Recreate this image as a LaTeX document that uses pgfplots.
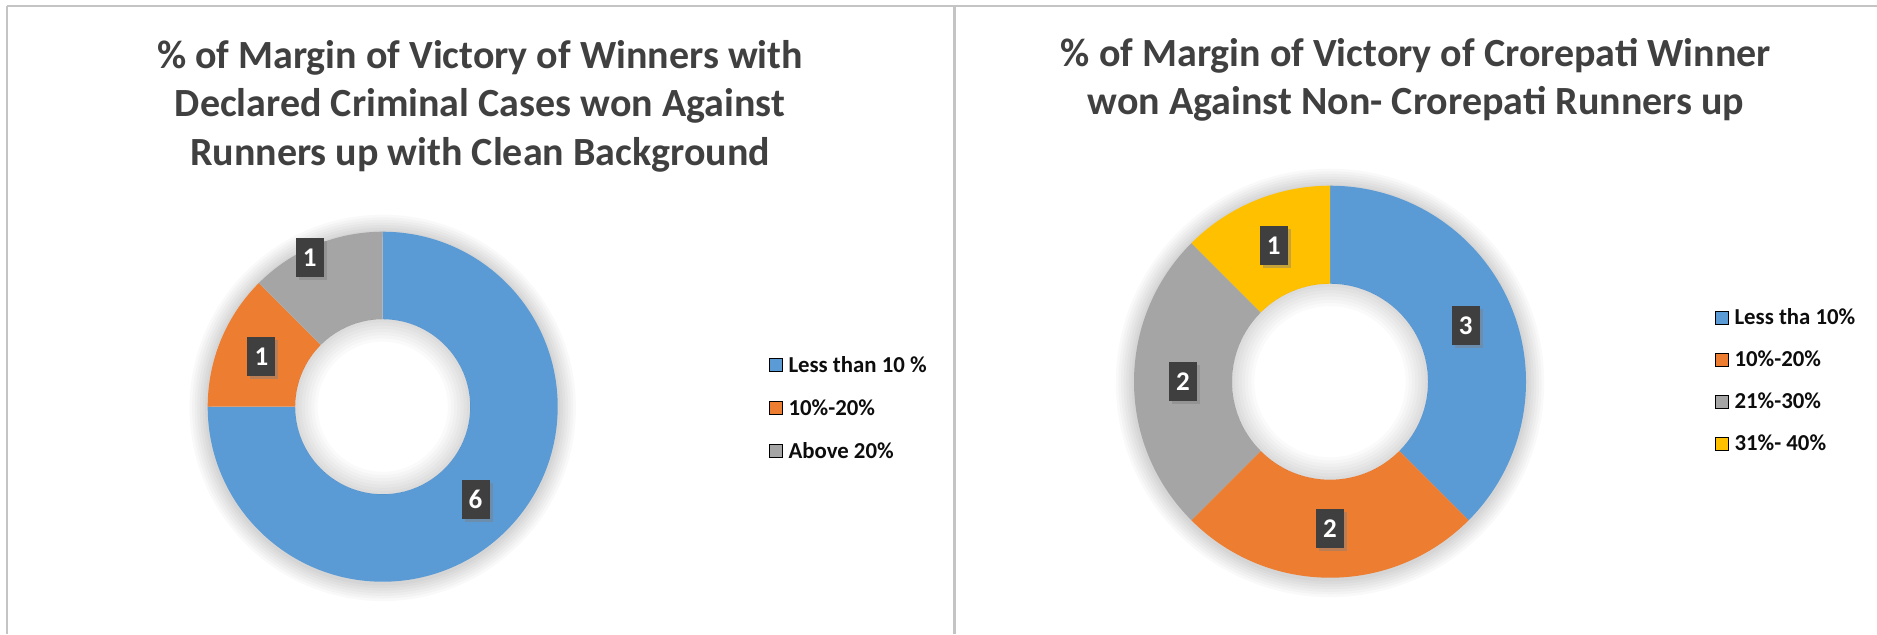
\documentclass[border=0pt]{standalone}
\usepackage{fontspec}
\setmainfont{Carlito}
\usepackage{pgfplots}
\usepackage{pgfplotstable}
\pgfplotsset{compat=1.18}
\usetikzlibrary{shadows}

\definecolor{cBlue}{HTML}{5B9BD5}
\definecolor{cOrange}{HTML}{ED7D31}
\definecolor{cGray}{HTML}{A5A5A5}
\definecolor{cYellow}{HTML}{FFC000}
\definecolor{titlec}{HTML}{404040}
\definecolor{boxc}{HTML}{3F3F3F}
\definecolor{framec}{HTML}{C4C4C4}
\definecolor{legc}{HTML}{0D0D0D}

% value, colour, label radius (fraction of outer radius), label angle shift
\pgfplotstableread{
v c lr da
6 cBlue 0.75 0
1 cOrange 0.75 0
1 cGray 0.95 3.5
}\tabA
\pgfplotstableread{
v c lr da
3 cBlue 0.75 0
2 cOrange 0.75 0
2 cGray 0.75 0
1 cYellow 0.75 0
}\tabB

\tikzset{lbl/.style={fill=boxc, text=white, font=\bfseries\fontsize{13.5}{14}\selectfont,
  minimum width=14pt, minimum height=19.5pt, inner sep=0pt,
  drop shadow={shadow xshift=1.5pt,shadow yshift=-1.5pt,opacity=0.45}}}

\newcommand\donut[3]{% #1 table, #2 outer radius, #3 inner radius
  \pgfplotstablegetrowsof{#1}%
  \pgfmathtruncatemacro\nLast{\pgfplotsretval-1}%
  \gdef\dTot{0}%
  \foreach \i in {0,...,\nLast}{%
    \pgfplotstablegetelem{\i}{v}\of{#1}%
    \pgfmathsetmacro\dT{\dTot+\pgfplotsretval}\xdef\dTot{\dT}}%
  \foreach \k in {1,...,7}{\fill[black,opacity=0.022,even odd rule] ([yshift=-0.6pt]axis cs:0,0) circle[radius=#2+\k*1.3pt] circle[radius=#2-2pt];}%
  \gdef\dCum{0}%
  \foreach \i in {0,...,\nLast}{%
    \pgfplotstablegetelem{\i}{v}\of{#1}\let\sV\pgfplotsretval
    \pgfplotstablegetelem{\i}{c}\of{#1}\let\sC\pgfplotsretval
    \pgfmathsetmacro\aA{90-360*\dCum/\dTot}%
    \pgfmathsetmacro\aB{90-360*(\dCum+\sV)/\dTot}%
    \fill[fill=\sC] ([shift={(\aA:#2)}]axis cs:0,0) arc[start angle=\aA,end angle=\aB,radius=#2]
       -- ([shift={(\aB:#3)}]axis cs:0,0) arc[start angle=\aB,end angle=\aA,radius=#3] -- cycle;
    \pgfmathsetmacro\dC{\dCum+\sV}\xdef\dCum{\dC}%
  }%
  \foreach \k in {1,...,7}{\fill[black,opacity=0.02,even odd rule] (axis cs:0,0) circle[radius=#3] circle[radius=#3-\k*1.6pt];}%
  \gdef\dCum{0}%
  \foreach \i in {0,...,\nLast}{%
    \pgfplotstablegetelem{\i}{v}\of{#1}\let\sV\pgfplotsretval
    \pgfplotstablegetelem{\i}{lr}\of{#1}\let\sL\pgfplotsretval
    \pgfplotstablegetelem{\i}{da}\of{#1}\let\sD\pgfplotsretval
    \pgfmathsetmacro\aM{90-360*(\dCum+0.5*\sV)/\dTot+\sD}%
    \pgfmathsetmacro\rM{\sL*#2}%
    \node[lbl] at ([shift={(\aM:\rM pt)}]axis cs:0,0) {\sV};
    \pgfmathsetmacro\dC{\dCum+\sV}\xdef\dCum{\dC}%
  }%
}

\pgfplotsset{donutaxis/.style={anchor=origin, scale only axis, hide axis, clip=false,
  xmin=-1,xmax=1,ymin=-1,ymax=1,
  legend cell align=left,
  legend image code/.code={\fill[##1] (0pt,0.2pt) rectangle (6.4pt,6.6pt);},
  legend style={draw=none, fill=none, inner sep=0pt, outer sep=0pt,
    font=\bfseries\fontsize{11.4}{13}\selectfont, text=legc, column sep=3pt,
    nodes={inner sep=0pt, text height=8pt, text depth=2.5pt, anchor=base west}}}}

\begin{document}
\begin{tikzpicture}[x=0.5pt,y=-0.5pt]
\useasboundingbox (0,0) rectangle (1877,634);
\fill[white] (0,0) rectangle (1877,634);
\draw[framec, line width=0.7pt] (7,6) -- (1877,6);
\draw[framec, line width=1pt] (7,6) -- (7,634);
\draw[framec, line width=1.7pt] (954.5,6) -- (954.5,634);
\coordinate (cA) at (382.7,406.7);
\coordinate (cB) at (1330,381.7);

\begin{axis}[donutaxis, at={(cA)}, width=175pt, height=175pt,
  legend style={at={(axis cs:2.207,-0.016)}, anchor=west, row sep=11pt}]
  \addlegendimage{fill=cBlue}\addlegendentry{Less than 10 \%}
  \addlegendimage{fill=cOrange}\addlegendentry{10\%-20\%}
  \addlegendimage{fill=cGray}\addlegendentry{Above 20\%}
  \pgfplotsextra{\donut{\tabA}{87.5pt}{43.75pt}}
\end{axis}

\begin{axis}[donutaxis, at={(cB)}, width=196pt, height=196pt,
  legend style={at={(axis cs:1.964,-0.004)}, anchor=west, row sep=10.5pt}]
  \addlegendimage{fill=cBlue}\addlegendentry{Less tha 10\%}
  \addlegendimage{fill=cOrange}\addlegendentry{10\%-20\%}
  \addlegendimage{fill=cGray}\addlegendentry{21\%-30\%}
  \addlegendimage{fill=cYellow}\addlegendentry{31\%- 40\%}
  \pgfplotsextra{\donut{\tabB}{98pt}{49pt}}
\end{axis}

\begin{scope}[every node/.style={anchor=base, text=titlec, font=\bfseries\fontsize{20}{24}\selectfont, inner sep=0pt}]
\node at (480,68) {\% of Margin of Victory of Winners with};
\node at (480,116) {Declared Criminal Cases won Against};
\node at (480,165) {Runners up with Clean Background};
\node at (1416,66) {\% of Margin of Victory of Crorepati Winner};
\node at (1416,114) {won Against Non- Crorepati Runners up};
\end{scope}
\end{tikzpicture}
\end{document}
